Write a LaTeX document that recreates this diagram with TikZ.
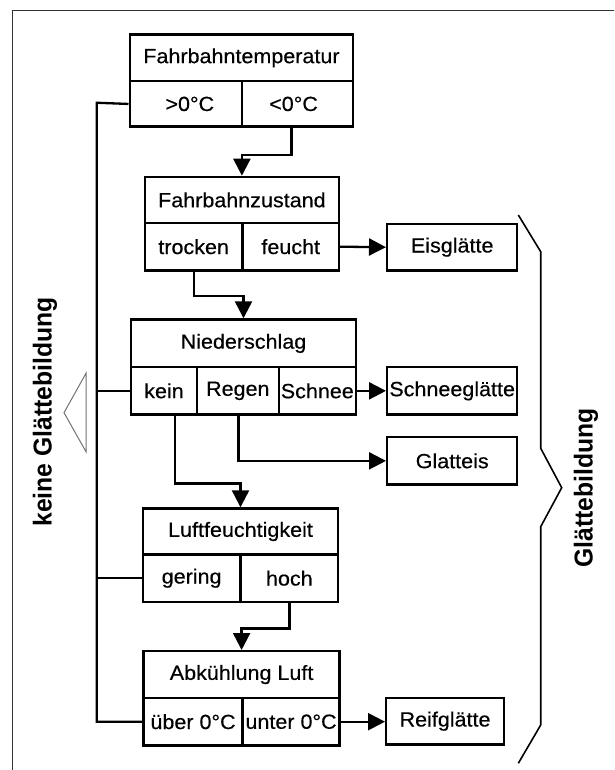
\documentclass[tikz,border=0pt]{standalone}
\usepackage{fontspec}
\usepackage{graphicx}
\setmainfont{Liberation Sans}[FakeStretch=1.05,FakeBold=0.4]
\newfontfamily\rotfont{Liberation Sans}
\usetikzlibrary{arrows.meta,calc}
\tikzset{
  cell/.style={draw, line width=2.4pt, inner sep=0pt, font=\fontsize{20.5}{24}\selectfont},
  conn/.style={line width=2.3pt},
  arr/.style={line width=2.3pt, -{Triangle[length=17pt,width=17pt]}},
  rotlabel/.style={rotate=90, inner sep=0pt, font=\rotfont\bfseries\fontsize{24.7}{29}\selectfont}
}
\newcommand\cellbox[6]{\node[cell, anchor=north west, minimum width={(#4-#2)*1pt}, minimum height={(#5-#3)*1pt}] (#1) at (#2,#3) {#6};}
\begin{document}
\begin{tikzpicture}[x=1pt,y=-1pt]
\useasboundingbox[fill=white] (0,0) rectangle (614,770);
\begin{scope}
\clip (0,0) rectangle (614,770);
\draw[line width=1.2pt, black!80] (12.7,10.7) rectangle (700,900);
\end{scope}
% boxes
\cellbox{A0}{128.5}{33.3}{352}{80}{Fahrbahntemperatur}
\cellbox{A1}{128.5}{80}{240.7}{125.5}{\hspace*{8pt}>0°C}
\cellbox{A2}{240.7}{80}{352}{125.5}{<0°C\hspace*{8pt}}
\cellbox{B0}{143.6}{175.7}{337.8}{221.7}{Fahrbahnzustand}
\cellbox{B1}{143.6}{221.7}{241.3}{269.3}{trocken}
\cellbox{B2}{241.3}{221.7}{337.8}{269.3}{feucht}
\cellbox{E1}{386}{222.7}{516}{269.3}{Eisglätte}
\cellbox{C0}{130}{318.3}{354.6}{366}{Niederschlag}
\cellbox{C1}{130}{366}{195.6}{413.3}{kein}
\cellbox{C2}{195.6}{366}{277.6}{413.3}{\raisebox{2pt}{Regen}}
\cellbox{C3}{277.6}{366}{354.6}{413.3}{Schnee}
\cellbox{E2}{386}{366}{516}{413.3}{Schneeglätte}
\cellbox{E3}{386}{436}{516}{483.3}{Glatteis}
\cellbox{D0}{141.6}{507.3}{337}{553.3}{Luftfeuchtigkeit}
\cellbox{D1}{141.6}{553.3}{239.3}{600.7}{gering}
\cellbox{D2}{239.3}{553.3}{337}{600.7}{hoch}
\cellbox{F0}{142.4}{650}{338.4}{696.7}{Abkühlung Luft}
\cellbox{F1}{142.4}{696.7}{241.3}{744.3}{über 0°C}
\cellbox{F2}{241.3}{696.7}{338.4}{744.3}{unter 0°C}
\cellbox{E4}{385}{696.7}{502.7}{743.3}{Reifglätte}
% left collector line
\coordinate (lt) at (96.7,102.75);
\draw[conn] (A1.west) -- (lt) -- (lt |- F1.west) -- (F1.west);
\draw[conn] (C1.west) -- (C1.west -| lt);
\draw[conn] (D1.west) -- (D1.west -| lt);
% flow arrows
\draw[arr] ([xshift=-6pt]A2.south) -- ++(0,27.2) -| (B0.north);
\draw[arr] (B2.east) -- (E1.west);
\draw[arr] (B1.south) -- ++(0,24) -| (C0.north);
\draw[arr] (C3.east) -- (E2.west);
\draw[arr] ([xshift=0.8pt]C2.south) |- (E3.west);
\draw[arr] ([xshift=11pt]C1.south) -- ++(0,67.7) -| (D0.north);
\draw[arr] (D2.south) -- ++(0,25.3) -| (F0.north);
\draw[arr] (F2.east) -- (F2.east -| E4.west);
% triangle and bracket
\draw[line width=1pt, black!55] (86,373.3) -- (64,412.7) -- (86,451.7) -- cycle;
\draw[line width=1.6pt] (518.3,215) -- (540.7,251.7) -- (540.7,448.3) -- (561.7,487.7) -- (540.7,526.7) -- (540.7,725) -- (518.3,763.3);
% side labels
\node[rotlabel] (kg) at (45,412) {\scalebox{1}[1.05]{keine Glättebildung}};
\node[rotlabel] (gb) at (586,487.7) {\scalebox{1}[1.05]{Glättebildung}};
\end{tikzpicture}
\end{document}
